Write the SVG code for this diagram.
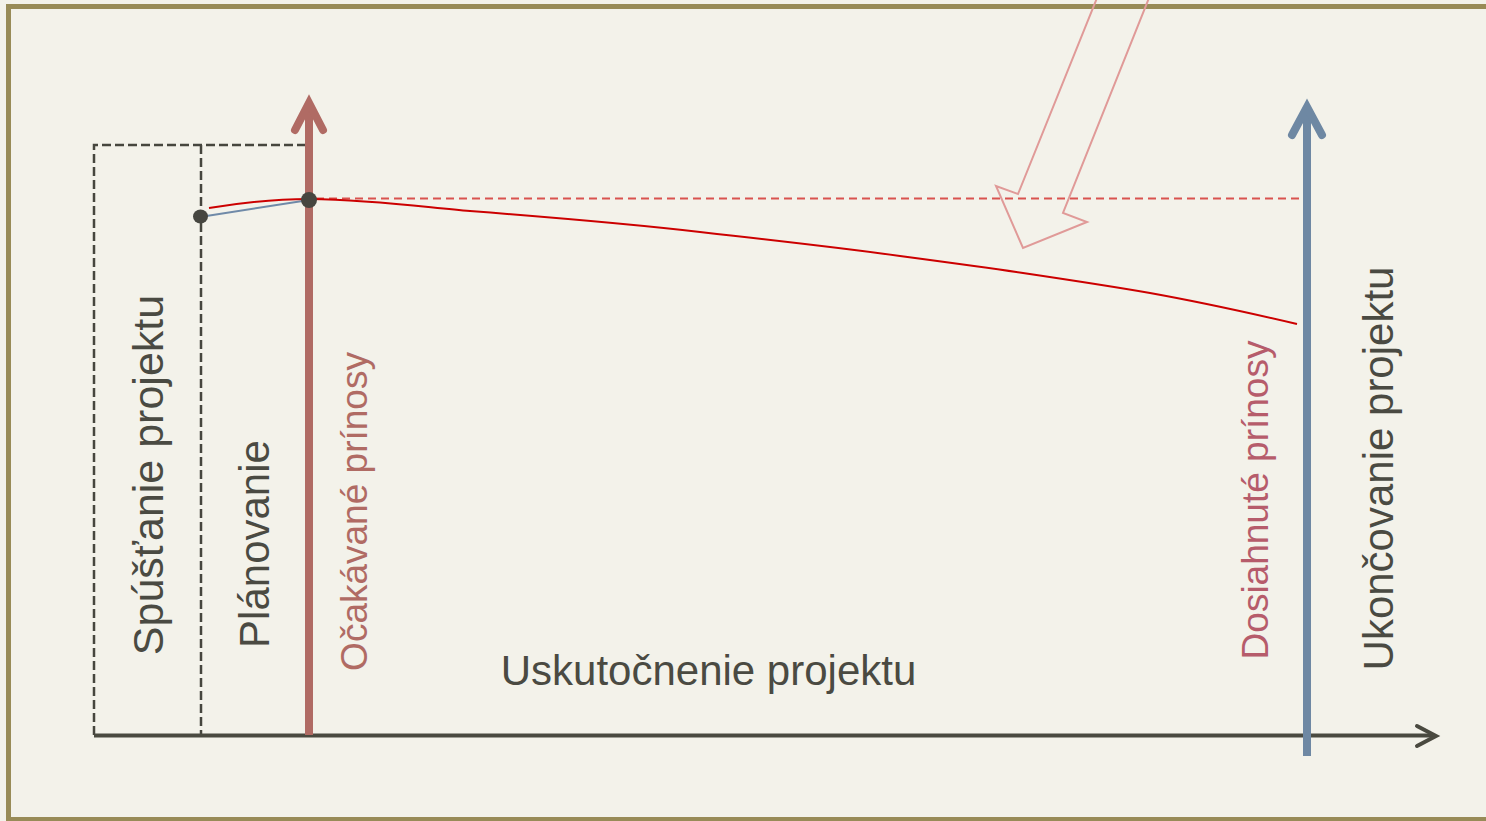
<svg xmlns="http://www.w3.org/2000/svg" width="1486" height="821" viewBox="0 0 1486 821">
  <style>
    .lbl { font-family: "Liberation Sans", Arial, sans-serif; }
    .dark { fill: #4a4a42; }
    .dash-box { fill: none; stroke: #46463e; stroke-width: 2.5; stroke-dasharray: 9 4; }
    .chev { fill: none; stroke-linecap: round; stroke-linejoin: miter; }
  </style>
  <rect x="0" y="0" width="1486" height="821" fill="#f3f2ea"/>
  <g id="frame">
    <rect x="8.5" y="6.5" width="1500" height="813" fill="#f3f2ea" stroke="#988b57" stroke-width="5"/>
  </g>

  <g id="phase-boxes">
    <path class="dash-box" d="M94,735 V145 H305"/>
    <path class="dash-box" d="M201,145 V735"/>
  </g>

  <g id="connectors">
    <!-- time axis -->
    <line x1="94" y1="735.5" x2="1434" y2="735.5" stroke="#4a4a40" stroke-width="4"/>
    <polyline points="1417,726 1436,736 1417,746" fill="none" stroke="#4a4a40" stroke-width="4" stroke-linecap="round" stroke-linejoin="miter"/>
    <!-- expected benefits arrow -->
    <line x1="309" y1="735" x2="309" y2="104" stroke="#b06b64" stroke-width="8"/>
    <polyline class="chev" points="295,130 309,103 323,130" stroke="#b06b64" stroke-width="8"/>
    <!-- project closing arrow -->
    <line x1="1307" y1="756" x2="1307" y2="108" stroke="#6e88a3" stroke-width="8"/>
    <polyline class="chev" points="1292,135 1307,107 1322,135" stroke="#6e88a3" stroke-width="8"/>
    <!-- dashed expected level -->
    <line x1="316" y1="198.5" x2="1303" y2="198.5" stroke="#d9534f" stroke-width="2" stroke-dasharray="8 5"/>
    <!-- planning link -->
    <line x1="200" y1="217" x2="309" y2="200" stroke="#6f8aa8" stroke-width="2"/>
    <!-- benefits curve -->
    <path d="M209,208 C240,203 280,199 309,199 C380,200 430,208 470,211 C560,218 640,225 700,232 C780,241 850,249 900,256 C960,264 990,268 1023,273 C1070,280 1110,286 1150,293 C1200,302 1250,313 1297,324" fill="none" stroke="#cc0000" stroke-width="2"/>
    <!-- hollow arrow -->
    <polygon points="1097,-2 1018,194 996,186 1023,248 1087,222 1063,213 1149,-2" fill="none" stroke="#e09a98" stroke-width="2" stroke-linejoin="miter"/>
  </g>

  <g id="dot-start">
    <ellipse cx="200.5" cy="216.5" rx="7.5" ry="7" fill="#464640"/>
  </g>
  <g id="dot-plan">
    <circle cx="309" cy="200" r="8" fill="#464640"/>
  </g>

  <g id="label-spustanie">
    <text class="lbl dark" font-size="43" text-anchor="middle" transform="translate(163,475) rotate(-90)">Spúšťanie projektu</text>
  </g>
  <g id="label-planovanie">
    <text class="lbl dark" font-size="42" text-anchor="middle" transform="translate(269,544) rotate(-90)">Plánovanie</text>
  </g>
  <g id="label-ocakavane">
    <text class="lbl" fill="#b06b64" font-size="37" text-anchor="middle" transform="translate(367,511.5) rotate(-90)">Očakávané prínosy</text>
  </g>
  <g id="label-uskutocnenie">
    <text class="lbl dark" font-size="42" text-anchor="middle" x="708.5" y="685">Uskutočnenie projektu</text>
  </g>
  <g id="label-dosiahnute">
    <text class="lbl" fill="#b65c6b" font-size="37" text-anchor="middle" transform="translate(1268,500) rotate(-90)">Dosiahnuté prínosy</text>
  </g>
  <g id="label-ukoncovanie">
    <text class="lbl dark" font-size="42" text-anchor="middle" transform="translate(1393,468.5) rotate(-90)">Ukončovanie projektu</text>
  </g>
</svg>
